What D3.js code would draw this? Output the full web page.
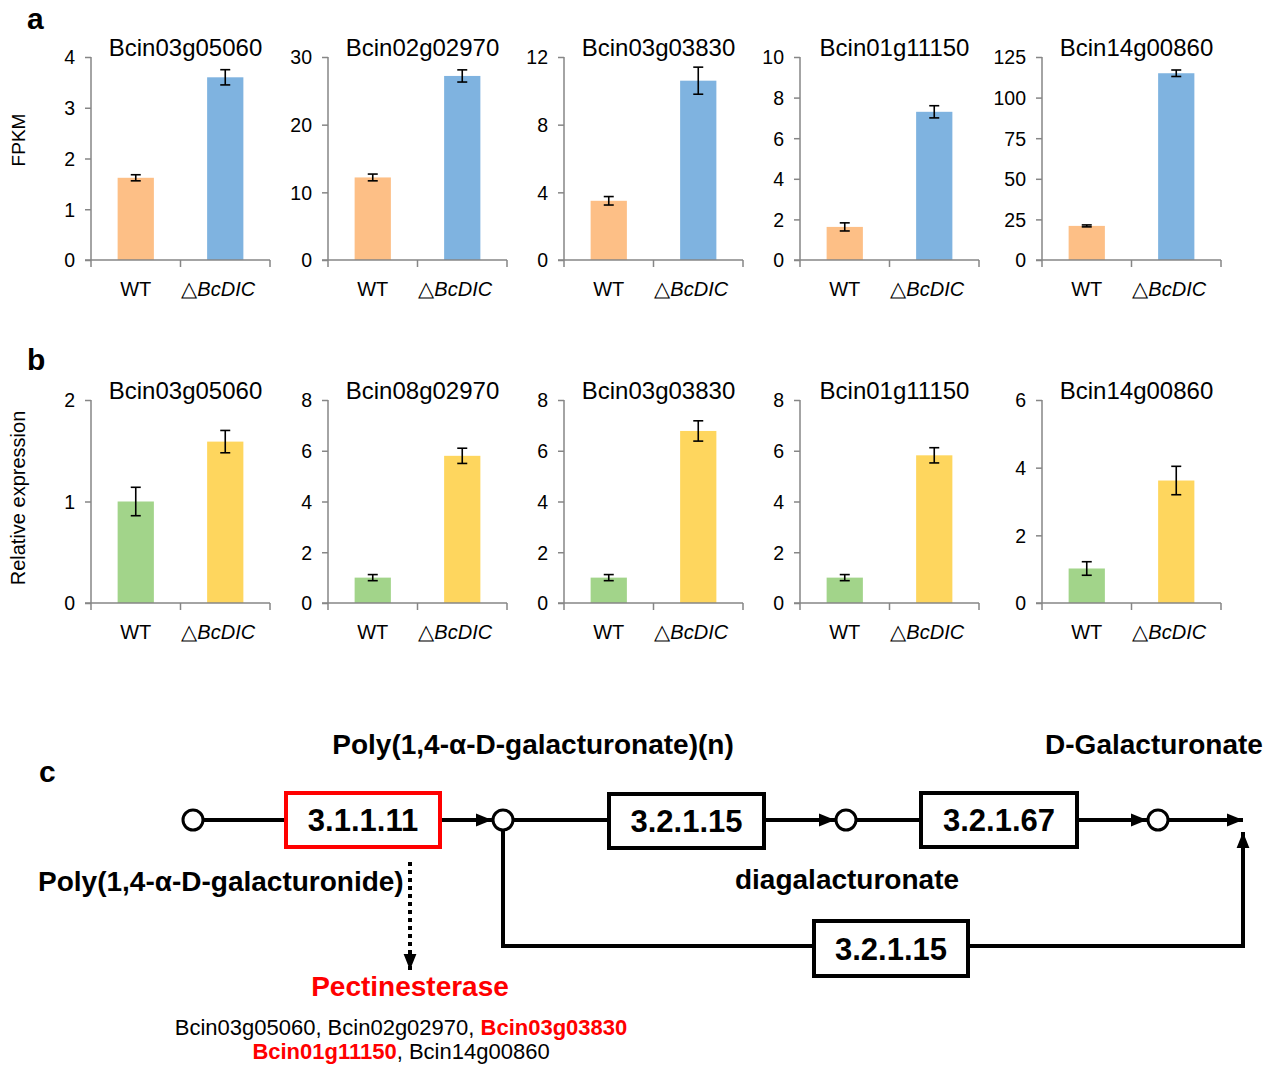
<!DOCTYPE html>
<html>
<head>
<meta charset="utf-8">
<script src="https://cdn.jsdelivr.net/npm/d3@7"></script>
<style>
body { margin: 0; background: #fff; }
svg text { font-family: Arial, "Liberation Sans", sans-serif; }
</style>
</head>
<body>
<div id="chart"></div>
<script>
var W = 1273, H = 1065;

var groups = ["WT", "\u25B3BcDIC"];

// panel a (FPKM)
var genesA = ["Bcin03g05060", "Bcin02g02970", "Bcin03g03830", "Bcin01g11150", "Bcin14g00860"];
var maxA = [4, 30, 12, 10, 125];
var ticksA = [[0, 1, 2, 3, 4], [0, 10, 20, 30], [0, 4, 8, 12], [0, 2, 4, 6, 8, 10], [0, 25, 50, 75, 100, 125]];
var wtA = [1.62, 12.2, 3.5, 1.63, 21];
var wtErrA = [0.06, 0.5, 0.25, 0.2, 0.6];
var mutA = [3.6, 27.2, 10.6, 7.3, 115];
var mutErrA = [0.15, 0.9, 0.8, 0.3, 2];

// panel b (relative expression)
var genesB = ["Bcin03g05060", "Bcin08g02970", "Bcin03g03830", "Bcin01g11150", "Bcin14g00860"];
var maxB = [2, 8, 8, 8, 6];
var ticksB = [[0, 1, 2], [0, 2, 4, 6, 8], [0, 2, 4, 6, 8], [0, 2, 4, 6, 8], [0, 2, 4, 6]];
var wtB = [1.0, 1.0, 1.0, 1.0, 1.02];
var wtErrB = [0.14, 0.12, 0.12, 0.12, 0.2];
var mutB = [1.59, 5.8, 6.78, 5.82, 3.62];
var mutErrB = [0.11, 0.3, 0.4, 0.3, 0.42];

var colorsA = ["#FDBF86", "#7FB3E0"];
var colorsB = ["#A2D48A", "#FED65E"];

var svg = d3.select("#chart").append("svg")
	.attr("width", W)
	.attr("height", H);

var axisLefts = [91, 328, 564, 800, 1042];
var plotW = 179, plotH = 203;

function drawPanel(top, genes, maxes, ticks, wt, wtErr, mut, mutErr, colors) {
	for (var i = 0; i < genes.length; i++) {
		var g = svg.append("g")
			.attr("transform", "translate(" + axisLefts[i] + "," + top + ")");

		var x = d3.scaleBand().domain(groups).range([0, plotW]).padding(0);
		var y = d3.scaleLinear().domain([0, maxes[i]]).range([plotH, 0]);

		var rows = [
			{k: groups[0], v: wt[i], e: wtErr[i], c: colors[0]},
			{k: groups[1], v: mut[i], e: mutErr[i], c: colors[1]}
		];
		var bw = x.bandwidth() * 0.405;

		g.selectAll(".bar")
			.data(rows)
			.enter()
			.append("rect")
			.attr("x", function(d) { return x(d.k) + (x.bandwidth() - bw) / 2; })
			.attr("y", function(d) { return y(d.v); })
			.attr("width", bw)
			.attr("height", function(d) { return plotH - y(d.v); })
			.style("fill", function(d) { return d.c; });

		// error bars
		var eb = g.selectAll(".err").data(rows).enter().append("g")
			.attr("transform", function(d) { return "translate(" + (x(d.k) + x.bandwidth() / 2) + ",0)"; });
		eb.append("line")
			.attr("y1", function(d) { return y(d.v + d.e); })
			.attr("y2", function(d) { return y(d.v - d.e); })
			.attr("stroke", "#000").attr("stroke-width", 1.6);
		eb.append("line")
			.attr("x1", -5).attr("x2", 5)
			.attr("y1", function(d) { return y(d.v + d.e); })
			.attr("y2", function(d) { return y(d.v + d.e); })
			.attr("stroke", "#000").attr("stroke-width", 1.6);
		eb.append("line")
			.attr("x1", -5).attr("x2", 5)
			.attr("y1", function(d) { return y(d.v - d.e); })
			.attr("y2", function(d) { return y(d.v - d.e); })
			.attr("stroke", "#000").attr("stroke-width", 1.6);

		// y axis
		var yAxis = d3.axisLeft(y).tickValues(ticks[i]).tickFormat(d3.format("d")).tickSize(6).tickPadding(10);
		var ya = g.append("g").call(yAxis);
		ya.select(".domain").attr("stroke", "#868686").attr("stroke-width", 1.5).attr("d", "M0,0V" + plotH);
		ya.selectAll(".tick line").attr("stroke", "#868686").attr("stroke-width", 1.5);
		ya.selectAll(".tick text").style("font-size", "19.5px").attr("fill", "#000").attr("dy", "0.35em");

		// x axis
		g.append("line")
			.attr("x1", -6).attr("x2", plotW)
			.attr("y1", plotH).attr("y2", plotH)
			.attr("stroke", "#868686").attr("stroke-width", 1.5);
		g.selectAll(".xtick")
			.data([0, x.bandwidth(), plotW])
			.enter()
			.append("line")
			.attr("x1", function(d) { return d; }).attr("x2", function(d) { return d; })
			.attr("y1", plotH).attr("y2", plotH + 7)
			.attr("stroke", "#868686").attr("stroke-width", 1.5);

		var lab = g.selectAll(".xlab")
			.data(groups)
			.enter()
			.append("text")
			.attr("x", function(d, j) { return x(d) + x.bandwidth() / 2 + (j === 1 ? -7 : 0); })
			.attr("y", plotH + 36)
			.attr("text-anchor", "middle")
			.style("font-size", "20px");
		lab.each(function(d, j) {
			var t = d3.select(this);
			if (j === 0) {
				t.text(d);
			} else {
				t.append("tspan").text(d.charAt(0)).style("font-size", "21px");
				t.append("tspan").text(d.slice(1)).style("font-style", "italic");
			}
		});

		g.append("text")
			.attr("x", plotW / 2 + 5)
			.attr("y", -1)
			.attr("text-anchor", "middle")
			.style("font-size", "24px")
			.text(genes[i]);
	}
}

drawPanel(57, genesA, maxA, ticksA, wtA, wtErrA, mutA, mutErrA, colorsA);
drawPanel(400, genesB, maxB, ticksB, wtB, wtErrB, mutB, mutErrB, colorsB);

svg.append("text").attr("transform", "translate(25,140) rotate(-90)")
	.attr("text-anchor", "middle").style("font-size", "19px").text("FPKM");
svg.append("text").attr("transform", "translate(25,498) rotate(-90)")
	.attr("text-anchor", "middle").style("font-size", "20px").text("Relative expression");

svg.append("text").attr("x", 27).attr("y", 29).style("font-size", "30px").style("font-weight", "bold").text("a");
svg.append("text").attr("x", 27).attr("y", 370).style("font-size", "30px").style("font-weight", "bold").text("b");
svg.append("text").attr("x", 39).attr("y", 782).style("font-size", "30px").style("font-weight", "bold").text("c");

///////////////////////// PANEL C: pathway ///////////////////////////////
var defs = svg.append("defs");
defs.append("marker")
	.attr("id", "arrow")
	.attr("viewBox", "0 0 10 10")
	.attr("refX", 10).attr("refY", 5)
	.attr("markerWidth", 4).attr("markerHeight", 4)
	.attr("markerUnits", "strokeWidth")
	.attr("orient", "auto")
	.append("path").attr("d", "M0,1L10,5L0,9Z").attr("fill", "#000");

var py = 820;
var nodes = [193, 503, 846, 1158];
var boxes = [
	{label: "3.1.1.11", x: 286, y: 793, w: 154, h: 54, color: "#ff0000"},
	{label: "3.2.1.15", x: 609, y: 794, w: 155, h: 54, color: "#000"},
	{label: "3.2.1.67", x: 921, y: 793, w: 156, h: 54, color: "#000"},
	{label: "3.2.1.15", x: 814, y: 921, w: 154, h: 55, color: "#000"}
];
var nodeR = 10;

function seg(x1, y1, x2, y2, arrow) {
	var l = svg.append("line")
		.attr("x1", x1).attr("y1", y1).attr("x2", x2).attr("y2", y2)
		.attr("stroke", "#000").attr("stroke-width", 4);
	if (arrow) l.attr("marker-end", "url(#arrow)");
	return l;
}

// main chain
seg(nodes[0] + nodeR, py, boxes[0].x, py);
seg(boxes[0].x + boxes[0].w, py, nodes[1] - nodeR - 1, py, true);
seg(nodes[1] + nodeR, py, boxes[1].x, py);
seg(boxes[1].x + boxes[1].w, py, nodes[2] - nodeR - 1, py, true);
seg(nodes[2] + nodeR, py, boxes[2].x, py);
seg(boxes[2].x + boxes[2].w, py, nodes[3] - nodeR - 1, py, true);
seg(nodes[3] + nodeR, py, 1243, py, true);

// bypass loop
svg.append("path")
	.attr("d", "M" + nodes[1] + "," + (py + nodeR) + "V946H" + boxes[3].x)
	.attr("fill", "none").attr("stroke", "#000").attr("stroke-width", 4);
svg.append("path")
	.attr("d", "M" + (boxes[3].x + boxes[3].w) + ",946H1243V832")
	.attr("fill", "none").attr("stroke", "#000").attr("stroke-width", 4)
	.attr("marker-end", "url(#arrow)");

svg.selectAll(".node")
	.data(nodes)
	.enter()
	.append("circle")
	.attr("cx", function(d) { return d; })
	.attr("cy", py)
	.attr("r", nodeR)
	.attr("fill", "#fff").attr("stroke", "#000").attr("stroke-width", 3);

var bx = svg.selectAll(".box").data(boxes).enter().append("g");
bx.append("rect")
	.attr("x", function(d) { return d.x; })
	.attr("y", function(d) { return d.y; })
	.attr("width", function(d) { return d.w; })
	.attr("height", function(d) { return d.h; })
	.attr("fill", "#fff")
	.attr("stroke", function(d) { return d.color; })
	.attr("stroke-width", 4);
bx.append("text")
	.attr("x", function(d) { return d.x + d.w / 2; })
	.attr("y", function(d) { return d.y + d.h / 2 + 11; })
	.attr("text-anchor", "middle")
	.style("font-size", "31px").style("font-weight", "bold")
	.text(function(d) { return d.label; });

// dotted arrow to pectinesterase
svg.append("line")
	.attr("x1", 410).attr("y1", 862).attr("x2", 410).attr("y2", 970)
	.attr("stroke", "#000").attr("stroke-width", 4)
	.attr("stroke-dasharray", "4,4")
	.attr("marker-end", "url(#arrow)");

var labels = [
	{t: "Poly(1,4-\u03B1-D-galacturonate)(n)", x: 533, y: 754, a: "middle"},
	{t: "D-Galacturonate", x: 1154, y: 754, a: "middle"},
	{t: "Poly(1,4-\u03B1-D-galacturonide)", x: 38, y: 891, a: "start"},
	{t: "diagalacturonate", x: 847, y: 889, a: "middle"}
];
svg.selectAll(".clab")
	.data(labels)
	.enter()
	.append("text")
	.attr("x", function(d) { return d.x; })
	.attr("y", function(d) { return d.y; })
	.attr("text-anchor", function(d) { return d.a; })
	.style("font-size", "28px").style("font-weight", "bold")
	.text(function(d) { return d.t; });

svg.append("text").attr("x", 410).attr("y", 996)
	.attr("text-anchor", "middle")
	.style("font-size", "28px").style("font-weight", "bold").attr("fill", "#ff0000")
	.text("Pectinesterase");

var geneLine1 = [
	{t: "Bcin03g05060, Bcin02g02970, ", red: false},
	{t: "Bcin03g03830", red: true}
];
var geneLine2 = [
	{t: "Bcin01g11150", red: true},
	{t: ", Bcin14g00860", red: false}
];
[[geneLine1, 1035], [geneLine2, 1059]].forEach(function(pair) {
	var t = svg.append("text").attr("x", 401).attr("y", pair[1])
		.attr("text-anchor", "middle").style("font-size", "22px");
	t.selectAll("tspan").data(pair[0]).enter().append("tspan")
		.text(function(d) { return d.t; })
		.attr("fill", function(d) { return d.red ? "#ff0000" : "#000"; })
		.style("font-weight", function(d) { return d.red ? "bold" : "normal"; });
});
</script>
</body>
</html>
